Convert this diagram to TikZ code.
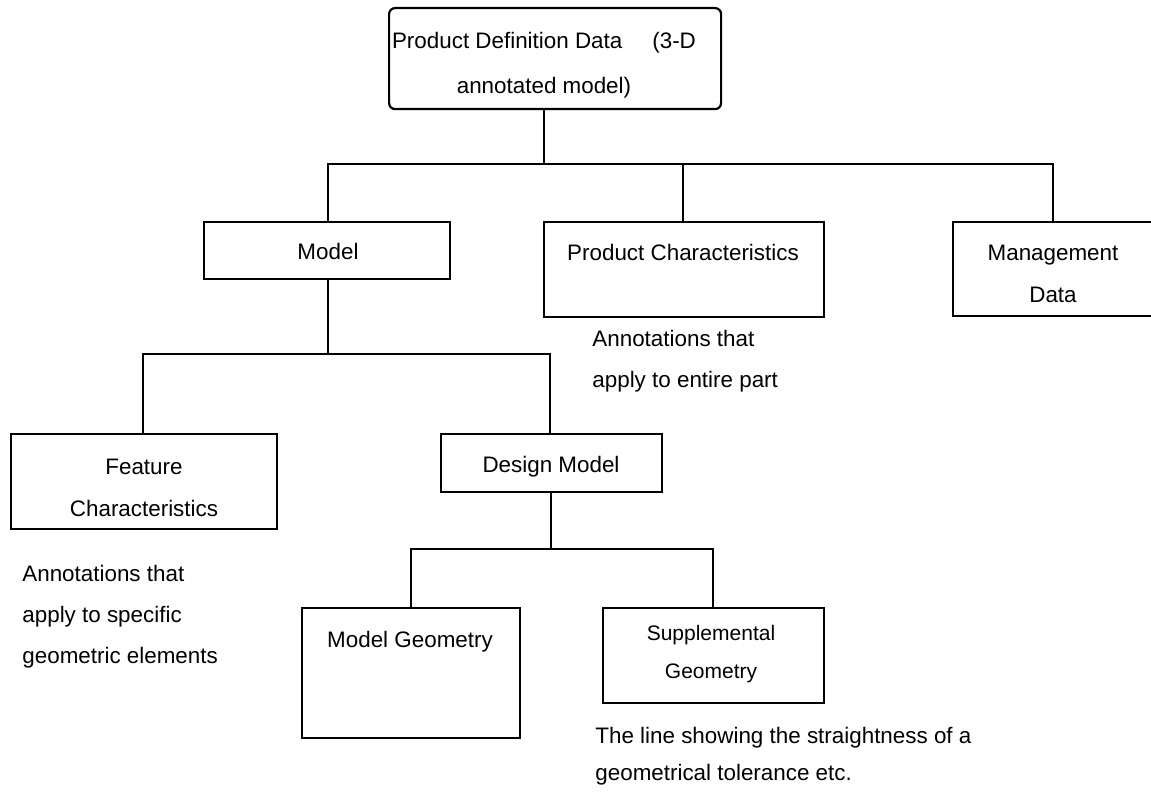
\documentclass[tikz,border=0pt]{standalone}
\usepackage{fontspec}
\setmainfont{Liberation Sans}
\begin{document}
\begin{tikzpicture}[x=0.5pt,y=-0.5pt,
  box/.style={draw, line width=1.1pt, inner sep=0pt, anchor=north west},
  lbl/.style={font=\fontsize{11.2}{21}\selectfont, align=center, inner sep=0pt},
  note/.style={font=\fontsize{11.2}{20.5}\selectfont, align=left, anchor=west, inner sep=0pt},
  link/.style={line width=1.1pt}]
\useasboundingbox (0,0) rectangle (1151,795);
\begin{scope}
\clip (0,0) rectangle (1151,795);
% boxes
\node[box, rounded corners=3pt, minimum width=166pt, minimum height=50.5pt] (pdd) at (388,7) {};
\node[box, minimum width=123pt, minimum height=28.5pt] (model) at (203,221) {};
\node[box, minimum width=140pt, minimum height=47.5pt] (pc) at (543,221) {};
\node[box, minimum width=102pt, minimum height=47pt] (mgmt) at (952,221) {};
\node[box, minimum width=133pt, minimum height=47.5pt] (feat) at (10,433) {};
\node[box, minimum width=110.5pt, minimum height=29pt] (dm) at (440,433) {};
\node[box, minimum width=109pt, minimum height=65pt] (mg) at (301,607) {};
\node[box, minimum width=110.5pt, minimum height=47.5pt] (sg) at (602,607) {};
\end{scope}
% labels
\node[lbl, font=\fontsize{11.2}{22.5}\selectfont] (pddt) at (544,65.5) {Product Definition Data\hspace{15pt}(3-D\\annotated model)};
\node[lbl] (modelt) at (328,252) {Model};
\node[lbl] (pct) at (683,253) {Product Characteristics};
\node[lbl] (mgmtt) at (1053,274) {Management\\Data};
\node[lbl] (featt) at (144,488) {Feature\\Characteristics};
\node[lbl] (dmt) at (551,467) {Design Model};
\node[lbl] (mgt) at (410,642) {Model Geometry};
\node[lbl, font=\fontsize{10.5}{19}\selectfont] (sgt) at (711,654) {Supplemental\\Geometry};
% notes
\node[note] (n1) at (592,361.5) {Annotations that\\apply to entire part};
\node[note] (n2) at (22,617) {Annotations that\\apply to specific\\geometric elements};
\node[note, font=\fontsize{11.2}{18.5}\selectfont] (n3) at (595,756.5) {The line showing the straightness of a\\geometrical tolerance etc.};
% connector junctions
\coordinate (t1) at (544,164);
\coordinate (ba) at (328,164);
\coordinate (bb) at (683,164);
\coordinate (bc) at (1053,164);
\coordinate (mt) at (328,354);
\coordinate (ma) at (143,354);
\coordinate (mb) at (550,354);
\coordinate (dt) at (551,549);
\coordinate (da) at (411,549);
\coordinate (db) at (713,549);
% connectors
\draw[link] (t1 |- pdd.south) -- (t1);
\draw[link] (ba |- model.north) -- (ba) -- (bc) -- (bc |- mgmt.north);
\draw[link] (bb) -- (bb |- pc.north);
\draw[link] (mt |- model.south) -- (mt);
\draw[link] (ma |- feat.north) -- (ma) -- (mb) -- (mb |- dm.north);
\draw[link] (dt |- dm.south) -- (dt);
\draw[link] (da |- mg.north) -- (da) -- (db) -- (db |- sg.north);
\end{tikzpicture}
\end{document}
